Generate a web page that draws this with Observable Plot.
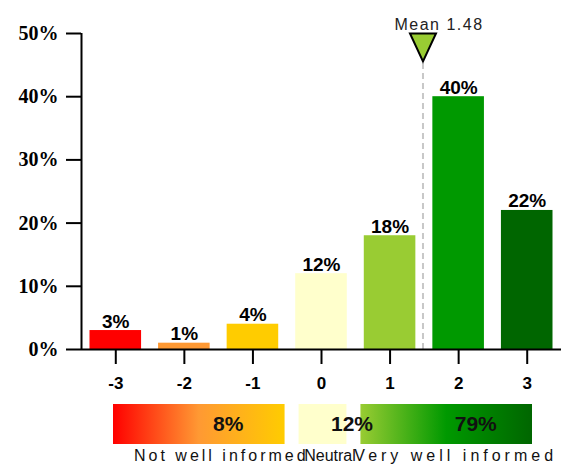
<!DOCTYPE html>
<html><head><meta charset="utf-8">
<script src="https://cdn.jsdelivr.net/npm/d3@7"></script>
<script src="https://cdn.jsdelivr.net/npm/@observablehq/plot@0.6"></script>
<style>body{margin:0;background:#fff}#chart svg,#legend svg{display:block}</style>
</head><body><div id="chart"></div><div id="legend"></div>
<script>
// ---- data ----
const categories = [-3, -2, -1, 0, 1, 2, 3];
const percents = [3, 1, 4, 12, 18, 40, 22];
const barColors = ["#ff0000", "#ff9933", "#ffcc00", "#ffffcc", "#99cc33", "#009900", "#006600"];
const yTicks = [0, 10, 20, 30, 40, 50];
const meanValue = 1.48;
const groupNames = ["Not well informed", "Neutral", "Very well informed"];
const groupFrom = [-3, 0, 1];
const groupTo = [-1, 0, 3];
const groupPercents = [8, 12, 79];
const groupGradients = [
  ["#ff0000", "#ff9933", "#ffcc00"],
  ["#ffffcc", "#ffffcc", "#ffffcc"],
  ["#99cc33", "#009900", "#006600"]
];

const bars = categories.map((c, i) => ({cat: c, pct: percents[i], color: barColors[i]}));
const groups = groupNames.map((g, i) => ({name: g, from: groupFrom[i], to: groupTo[i], pct: groupPercents[i], grad: "url(#grad" + i + ")"}));

const invTriangle = {draw(ctx) { const w = 13, h = 28; ctx.moveTo(-w, 0); ctx.lineTo(w, 0); ctx.lineTo(0, h); ctx.closePath(); }};

const chart = Plot.plot({
  width: 570, height: 395,
  marginLeft: 81, marginRight: 9, marginTop: 33, marginBottom: 46,
  x: {type: "linear", domain: [-3.5, 3.5], axis: null},
  y: {domain: [0, 50], axis: null},
  color: {type: "identity"},
  marks: [
    Plot.rectY(bars, {x1: d => d.cat - 0.5, x2: d => d.cat + 0.5, y: "pct", fill: "color", insetLeft: 8.5, insetRight: 8.5}),
    Plot.ruleX([meanValue], {stroke: "#c8c8c8", strokeWidth: 2, strokeDasharray: "6,4"}),
    Plot.ruleY([0], {strokeWidth: 2, stroke: "#000"}),
    Plot.ruleX([-3.5], {y1: 0, y2: 50, strokeWidth: 2, stroke: "#000"}),
    Plot.axisY({ticks: yTicks, label: null, tickSize: 15, tickPadding: 8, tickFormat: d => d + "%", fontSize: 20, fontWeight: "bold", fontFamily: "Liberation Serif", strokeWidth: 2, stroke: "#000", color: "#000"}),
    Plot.axisX({ticks: categories, label: null, tickSize: 15, tickPadding: 12, tickFormat: d => String(d), fontSize: 17, fontWeight: "bold", fontFamily: "Liberation Sans", strokeWidth: 2, stroke: "#000", color: "#000"}),
    Plot.text(bars, {x: "cat", y: "pct", text: d => d.pct + "%", dy: -3, lineAnchor: "bottom", fontSize: 19, fontWeight: "bold", fontFamily: "Liberation Sans", fill: "#000"}),
    Plot.dot([meanValue], {x: d => d, frameAnchor: "top", symbol: invTriangle, fill: "#99cc33", stroke: "#000", strokeWidth: 2, r: 10}),
    Plot.text([meanValue], {x: d => d, text: d => "Mean " + d, frameAnchor: "top", dy: -15, dx: 16, fontSize: 16, fontFamily: "Liberation Sans", fill: "#222"})
  ]
});
chart.style.fontFamily = "Liberation Sans";
document.getElementById("chart").append(chart);
d3.select(chart).selectAll("text").filter(function() { return this.textContent.startsWith("Mean"); }).attr("letter-spacing", "1.5px");

const nameText = (i, dx) => Plot.text(groups.filter((d, j) => j === i), {
  x: d => (d.from + d.to) / 2, text: "name", frameAnchor: "bottom", dy: 16, dx,
  fontSize: 16, fontFamily: "Liberation Sans", fill: "#111"
});

const legend = Plot.plot({
  width: 570, height: 81,
  marginLeft: 106, marginRight: 31, marginTop: 9, marginBottom: 32,
  x: {type: "linear", domain: [-3.5, 3.5], axis: null},
  color: {type: "identity"},
  marks: [
    Plot.rect(groups, {x1: d => d.from - 0.5, x2: d => d.to + 0.5, fill: "grad", insetLeft: 7, insetRight: 7}),
    Plot.text(groups, {x: d => (d.from + d.to) / 2, text: d => d.pct + "%", dx: 29, fontSize: 21, fontWeight: "bold", fontFamily: "Liberation Sans", fill: "#111"}),
    nameText(0, 22),
    nameText(1, 7),
    nameText(2, 9)
  ]
});
legend.style.fontFamily = "Liberation Sans";
const defs = d3.select(legend).insert("defs", ":first-child");
groupGradients.forEach((stops, i) => {
  const g = defs.append("linearGradient").attr("id", "grad" + i).attr("x1", "0%").attr("x2", "100%").attr("y1", "0%").attr("y2", "0%");
  stops.forEach((c, j) => g.append("stop").attr("offset", (j / (stops.length - 1) * 100) + "%").attr("stop-color", c));
});
const spacing = {"Not well informed": "3px", "Neutral": "0px", "Very well informed": "4px"};
d3.select(legend).selectAll("text").filter(function() { return this.textContent in spacing; })
  .attr("letter-spacing", function() { return spacing[this.textContent]; });
document.getElementById("legend").append(legend);
</script>
</body></html>
